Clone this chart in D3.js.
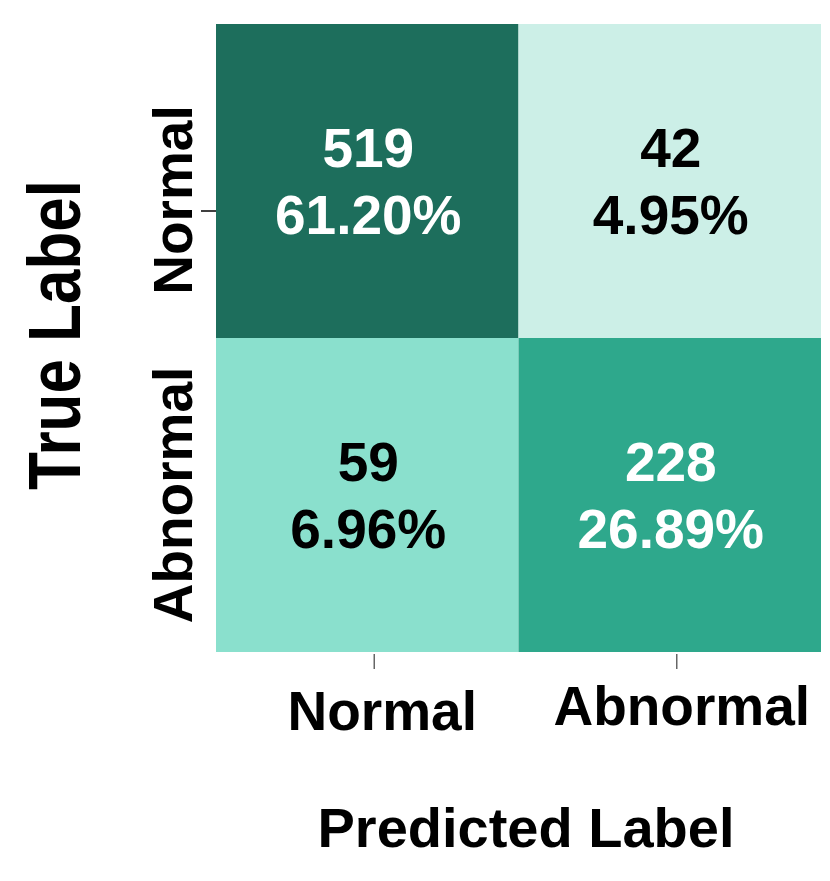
<!DOCTYPE html>
<html>
<head>
<meta charset="utf-8">
<script src="https://cdn.jsdelivr.net/npm/d3@7"></script>
<style>
html,body{margin:0;padding:0;background:#fff;}
text{font-family:"Liberation Sans",Arial,sans-serif;font-weight:bold;}
</style>
</head>
<body>
<svg id="chart" width="830" height="881"></svg>
<script>
const trueLabels = ["Normal", "Abnormal"];
const predLabels = ["Normal", "Abnormal"];
const counts = [[519, 42], [59, 228]];
const percents = ["61.20%", "4.95%", "6.96%", "26.89%"];
const colorStops = [42, 59, 228, 519];
const colorRange = ["#ccefe7", "#8ae0cd", "#2ea88c", "#1d6e5c"];

const svg = d3.select("#chart");
const m = {left: 216, top: 24, right: 9, bottom: 229};
const W = 830 - m.left - m.right, H = 881 - m.top - m.bottom;
const g = svg.append("g").attr("transform", `translate(${m.left},${m.top})`);

const x = d3.scaleBand().domain(predLabels).range([0, W]);
const y = d3.scaleBand().domain(trueLabels).range([0, H]);
const color = d3.scaleLinear().domain(colorStops).range(colorRange);

const cells = [];
trueLabels.forEach((t, i) => predLabels.forEach((p, j) => {
  cells.push({t, p, v: counts[i][j], pct: percents[i * 2 + j]});
}));

g.selectAll("rect.cell").data(cells).join("rect")
  .attr("class", "cell")
  .attr("x", d => x(d.p)).attr("y", d => y(d.t))
  .attr("width", x.bandwidth()).attr("height", y.bandwidth())
  .attr("fill", d => color(d.v));

const txt = g.selectAll("g.lbl").data(cells).join("g")
  .attr("class", "lbl")
  .attr("transform", d => `translate(${x(d.p) + x.bandwidth() / 2 + 1},${y(d.t) + y.bandwidth() / 2})`);
txt.append("text").attr("text-anchor", "middle").attr("y", -14)
  .attr("font-size", 55)
  .attr("fill", d => d.v > 150 ? "#fff" : "#000").text(d => d.v);
txt.append("text").attr("text-anchor", "middle").attr("y", 53)
  .attr("font-size", 55)
  .attr("fill", d => d.v > 150 ? "#fff" : "#000").text(d => d.pct);

// ticks (offset as in the reference)
g.append("line").attr("x1", -15).attr("x2", 0)
  .attr("y1", y("Normal") + y.bandwidth() / 2 + 30).attr("y2", y("Normal") + y.bandwidth() / 2 + 30)
  .attr("stroke", "#000").attr("stroke-width", 1.5);
predLabels.forEach(p => {
  g.append("line").attr("y1", H + 2).attr("y2", H + 17)
    .attr("x1", x(p) + x.bandwidth() / 2 + 7).attr("x2", x(p) + x.bandwidth() / 2 + 7)
    .attr("stroke", "#666").attr("stroke-width", 1.5);
});

// x tick labels
const xOff = {"Normal": [15, 78], "Abnormal": [12, 73]};
predLabels.forEach(p => {
  g.append("text").attr("text-anchor", "middle").attr("font-size", 55)
    .attr("x", x(p) + x.bandwidth() / 2 + xOff[p][0]).attr("y", H + xOff[p][1])
    .attr("fill", "#000").text(p);
});
// y tick labels
const yOff = {"Normal": 19, "Abnormal": 0};
trueLabels.forEach(t => {
  const cy = y(t) + y.bandwidth() / 2 + yOff[t];
  g.append("text").attr("text-anchor", "middle").attr("font-size", 55)
    .attr("transform", `translate(-24,${cy}) rotate(-90)`)
    .attr("fill", "#000").text(t);
});

// axis titles
svg.append("text").attr("text-anchor", "middle").attr("font-size", 56)
  .attr("x", 526).attr("y", 847).attr("fill", "#000").text("Predicted Label");
svg.append("text").attr("text-anchor", "middle").attr("font-size", 62)
  .attr("transform", `translate(80,335) rotate(-90) scale(1,1.2)`).attr("fill", "#000").text("True Label");
</script>
</body>
</html>
